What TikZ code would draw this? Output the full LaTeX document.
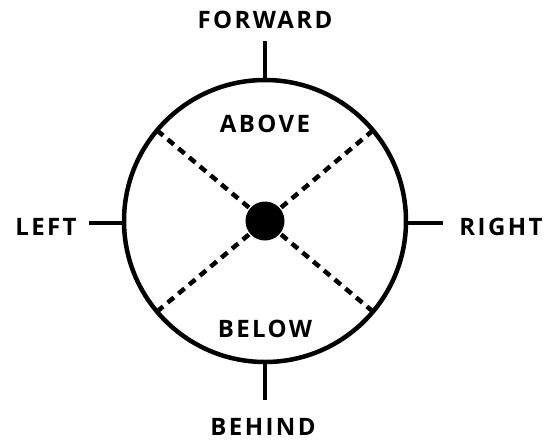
\documentclass[tikz,border=0pt]{standalone}
\usepackage{fontspec}
\usetikzlibrary{calc}
\newfontfamily\dirfont[LetterSpace=10]{Open Sans Bold}
\begin{document}
\begin{tikzpicture}[x=1pt,y=-1pt,line width=4.5pt,
	label/.style={font=\dirfont\fontsize{24}{26}\selectfont, inner sep=0pt, anchor=base}]
\useasboundingbox (0,0) rectangle (547,440);

\coordinate (O) at (265,221);

% Circulo y centro
	\draw (O) circle (141);
	\fill (O) circle (19.5);

% Diagonales
	\foreach \a in {40, 140, 220, 320}
		\draw[dash pattern=on 8pt off 6pt] ($(O)+(\a:21)$) -- ($(O)+(\a:141)$);

% Marcas
	\draw (265,80) -- (265,41);
	\draw (265,362) -- (265,400);
	\draw (124,223) -- (89,223);
	\draw (406,223) -- (443,223);

% Textos (en la linea base)
	\node[label] (fw) at (265,28) {FORWARD};
	\node[label] (bh) at (263,435) {BEHIND};
	\node[label] (lf) at (46,235) {LEFT};
	\node[label] (rt) at (501,235) {RIGHT};
	\node[label] (ab) at (265,132) {ABOVE};
	\node[label] (bl) at (265,337) {BELOW};
\end{tikzpicture}
\end{document}
